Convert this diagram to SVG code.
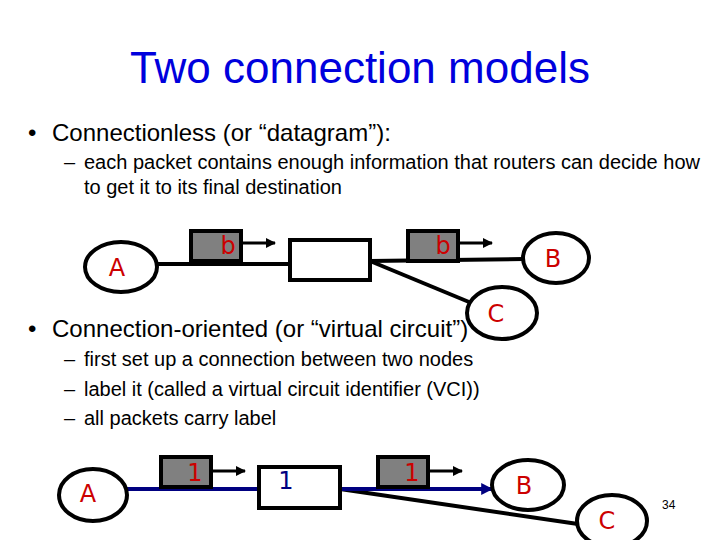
<svg xmlns="http://www.w3.org/2000/svg" width="720" height="540" viewBox="0 0 720 540">
<defs>
<marker id="ah" viewBox="0 0 10 10" refX="9" refY="5" markerWidth="10" markerHeight="10" markerUnits="userSpaceOnUse" orient="auto"><path d="M0,0 L10,5 L0,10 z" fill="#000"/></marker>
<marker id="ahb" viewBox="0 0 10 10" refX="9" refY="5" markerWidth="12" markerHeight="12" markerUnits="userSpaceOnUse" orient="auto"><path d="M0,0 L10,5 L0,10 z" fill="#000080"/></marker>
<style>
.t{font-family:"Liberation Sans",Arial,sans-serif;fill:#000}
.title{font-family:"Liberation Sans",Arial,sans-serif;fill:#0000DD;font-size:44px}
.l1{font-size:24px}
.l2{font-size:20px}
.node{fill:#fff;stroke:#000;stroke-width:4}
.pkt{fill:#808080;stroke:#000;stroke-width:4}
.lab{font-family:"DejaVu Sans","Liberation Sans",sans-serif;fill:#CC0000;font-size:24px;text-anchor:middle}
.link{stroke:#000;stroke-width:4;fill:none}
.blue{stroke:#000080;stroke-width:4;fill:none}
.arr{stroke:#000;stroke-width:3;fill:none}
</style>
</defs>
<rect width="720" height="540" fill="#fff"/>
<text class="title" x="360" y="83" text-anchor="middle">Two connection models</text>
<g class="t">
<text class="l1" x="28" y="141">•</text>
<text class="l1" x="52" y="141">Connectionless (or “datagram”):</text>
<text class="l2" x="64" y="169">–</text>
<text class="l2" x="84" y="169">each packet contains enough information that routers can decide how</text>
<text class="l2" x="84" y="194">to get it to its final destination</text>
<text class="l1" x="28" y="337">•</text>
<text class="l1" x="52" y="337">Connection-oriented (or “virtual circuit”)</text>
<text class="l2" x="64" y="366">–</text>
<text class="l2" x="84" y="366">first set up a connection between two nodes</text>
<text class="l2" x="64" y="396">–</text>
<text class="l2" x="84" y="396">label it (called a virtual circuit identifier (VCI))</text>
<text class="l2" x="64" y="425">–</text>
<text class="l2" x="84" y="425">all packets carry label</text>
</g>
<g id="connectors">
<line class="link" x1="157" y1="264" x2="290" y2="264"/>
<line class="link" x1="370" y1="261" x2="523" y2="259"/>
<line class="link" x1="370" y1="261" x2="469" y2="302"/>
<line class="arr" x1="241" y1="243" x2="275" y2="243" marker-end="url(#ah)"/>
<line class="arr" x1="458" y1="243" x2="492" y2="243" marker-end="url(#ah)"/>
<line class="link" x1="340" y1="489" x2="578" y2="524"/>
<line class="blue" x1="127" y1="489" x2="492" y2="489" marker-end="url(#ahb)"/>
<line class="arr" x1="211" y1="471" x2="245" y2="471" marker-end="url(#ah)"/>
<line class="arr" x1="428" y1="471" x2="462" y2="471" marker-end="url(#ah)"/>
</g>
<g id="A1"><ellipse class="node" cx="121" cy="267" rx="36" ry="25"/><text class="lab" x="117" y="276">A</text></g>
<g id="R1"><rect class="node" x="290" y="240" width="80" height="40"/></g>
<g id="B1"><ellipse class="node" cx="556" cy="258" rx="33" ry="25"/><text class="lab" x="553" y="267">B</text></g>
<g id="C1"><ellipse class="node" cx="502" cy="313" rx="35" ry="26"/><text class="lab" x="496" y="322">C</text></g>
<g id="P1"><rect class="pkt" x="191" y="231" width="50" height="30"/><text class="lab" x="228" y="254">b</text></g>
<g id="P2"><rect class="pkt" x="408" y="231" width="50" height="30"/><text class="lab" x="443" y="254">b</text></g>
<g id="A2"><ellipse class="node" cx="93" cy="495" rx="34" ry="26"/><text class="lab" x="88" y="502">A</text></g>
<g id="R2"><rect class="node" x="259" y="467" width="81" height="41"/><text class="lab" x="286" y="489" style="fill:#000080">1</text></g>
<g id="B2"><ellipse class="node" cx="528" cy="485" rx="36" ry="25"/><text class="lab" x="524" y="494">B</text></g>
<g id="C2"><ellipse class="node" cx="612" cy="521" rx="35" ry="26"/><text class="lab" x="607" y="529">C</text></g>
<g id="P3"><rect class="pkt" x="161" y="457" width="50" height="30"/><text class="lab" x="195" y="481">1</text></g>
<g id="P4"><rect class="pkt" x="378" y="457" width="50" height="30"/><text class="lab" x="412" y="481">1</text></g>
<text class="t" x="662" y="509" font-size="12">34</text>
</svg>
